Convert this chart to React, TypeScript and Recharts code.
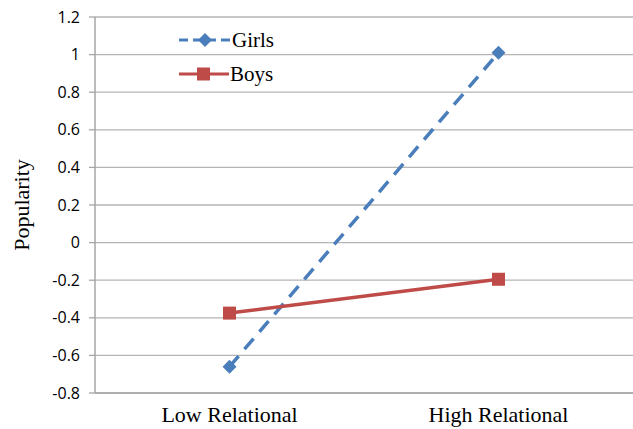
import React from "react";
import { LineChart, Line, XAxis, YAxis, CartesianGrid } from "recharts";

const categories = ["Low Relational", "High Relational"];
const girls = [-0.66, 1.01];
const boys = [-0.375, -0.195];
const yTicks = [-0.8, -0.6, -0.4, -0.2, 0, 0.2, 0.4, 0.6, 0.8, 1, 1.2];

const data = categories.map((c, i) => ({ cat: c, girls: girls[i], boys: boys[i] }));

const BLUE = "#4a7ebb";
const RED = "#be4b48";
const SERIF = "'Liberation Serif', 'Times New Roman', serif";

const Diamond = (props: any) => {
  const { cx, cy } = props;
  if (cx == null || cy == null) return null;
  const r = 7;
  return (
    <polygon
      points={`${cx},${cy - r} ${cx + r},${cy} ${cx},${cy + r} ${cx - r},${cy}`}
      fill={BLUE}
    />
  );
};

const Square = (props: any) => {
  const { cx, cy } = props;
  if (cx == null || cy == null) return null;
  const s = 6.5;
  return <rect x={cx - s} y={cy - s} width={s * 2} height={s * 2} fill={RED} />;
};

const CatTick = (props: any) => {
  const { x, y, payload } = props;
  return (
    <text x={x} y={y + 21} textAnchor="middle" fontFamily={SERIF} fontSize={22} fill="#000">
      {payload.value}
    </text>
  );
};

function LegendBox() {
  const font = { fontFamily: SERIF, fontSize: 21, fill: "#000" };
  return (
    <svg width={633} height={429} style={{ position: "absolute", left: 0, top: 0, pointerEvents: "none" }}>
      <line x1={179} y1={40} x2={232} y2={40} stroke={BLUE} strokeWidth={3} strokeDasharray="9 5" />
      <polygon points="205,33 212,40 205,47 198,40" fill={BLUE} />
      <text x={232} y={47} style={font}>Girls</text>
      <line x1={179} y1={74} x2={229} y2={74} stroke={RED} strokeWidth={3} />
      <rect x={197} y={67.5} width={13} height={13} fill={RED} />
      <text x={230} y={81} style={font}>Boys</text>
    </svg>
  );
}

export default function App() {
  return (
    <div style={{ position: "absolute", left: 0, top: 0, width: 633, height: 429, background: "#fff" }}>
      <LineChart width={633} height={429} data={data} margin={{ top: 17, right: 0, bottom: 0, left: 0 }}>
        <CartesianGrid horizontal vertical={false} stroke="#b5b5b5" strokeWidth={1.3} />
        <XAxis
          dataKey="cat"
          scale="band"
          height={36}
          axisLine={{ stroke: "#a6a6a6", strokeWidth: 1.5 }}
          tickLine={false}
          tick={<CatTick />}
        />
        <YAxis
          width={95}
          domain={[-0.8, 1.2]}
          ticks={yTicks}
          interval={0}
          tickFormatter={(v: number) => String(Math.round(v * 10) / 10)}
          axisLine={{ stroke: "#a6a6a6", strokeWidth: 1.5 }}
          tickLine={{ stroke: "#a6a6a6", strokeWidth: 1.3 }}
          tickSize={6}
          tickMargin={9}
          tick={{ fontFamily: "'Open Sans', 'Liberation Sans', sans-serif", fontSize: 16, fill: "#000" }}
          label={{
            value: "Popularity",
            angle: -90,
            position: "insideLeft",
            dx: 16,
            style: { fontFamily: SERIF, fontSize: 22, fill: "#000", textAnchor: "middle" },
          }}
        />
        <Line
          dataKey="girls"
          stroke={BLUE}
          strokeWidth={3.5}
          strokeDasharray="14 9"
          dot={<Diamond />}
          activeDot={false}
          isAnimationActive={false}
        />
        <Line
          dataKey="boys"
          stroke={RED}
          strokeWidth={3.5}
          dot={<Square />}
          activeDot={false}
          isAnimationActive={false}
        />
      </LineChart>
      <LegendBox />
    </div>
  );
}
